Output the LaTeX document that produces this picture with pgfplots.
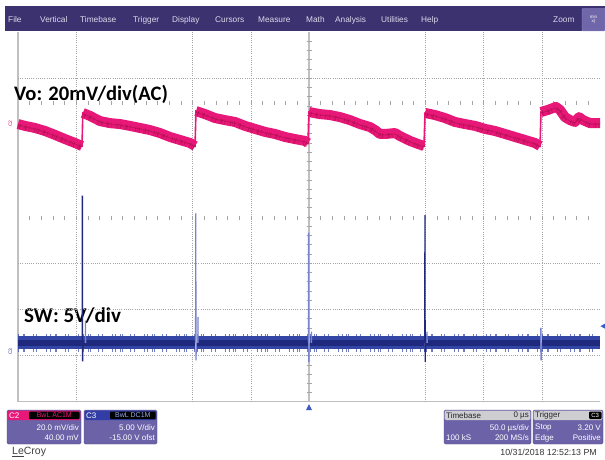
\documentclass[border=0pt]{standalone}
\usepackage{pgfplots}
\pgfplotsset{compat=1.18}
\usepackage{pgfplotstable}
\usepackage{fontspec}
\setmainfont{Liberation Sans}
\newfontfamily\labfont{Carlito}

\definecolor{menubar}{RGB}{60,50,112}
\definecolor{menutext}{RGB}{220,218,235}
\definecolor{zoombtn}{RGB}{112,102,170}
\definecolor{ch2}{RGB}{232,24,120}
\definecolor{ch2dark}{RGB}{140,10,55}
\definecolor{ch3}{RGB}{52,70,165}
\definecolor{ch3dark}{RGB}{30,40,125}
\definecolor{ch3light}{RGB}{120,132,205}
\definecolor{ch3hdr}{RGB}{50,62,165}
\definecolor{boxbody}{RGB}{108,98,168}
\definecolor{boxedge}{RGB}{78,68,138}
\definecolor{hdrgray}{RGB}{205,205,210}
\definecolor{gridc}{RGB}{165,165,165}
\definecolor{border}{RGB}{192,192,192}
\definecolor{trig}{RGB}{60,90,200}

\newcommand\ui{\fontsize{8}{9}\selectfont}

% Vo (C2), 20 mV/div, AC coupled, time in us
\pgfplotstableread{
t v
-250.0 0.2
-244.0 -0.6
-235.4 -1.5
-226.8 -2.8
-218.2 -4.5
-209.6 -6.3
-201.0 -8.0
-195.0 -9.3
nan nan
-194.3 5.0
-188.1 3.7
-179.6 1.5
-171.0 0.6
-162.4 0.2
-153.8 -0.6
-145.2 -1.5
-136.6 -2.4
-128.0 -3.7
-119.4 -5.4
-110.8 -6.7
-102.2 -8.0
-97.9 -9.3
nan nan
-97.1 5.8
-89.3 4.5
-80.8 2.8
-72.2 1.9
-63.6 1.1
-55.0 -0.6
-46.4 -1.9
-37.8 -3.2
-29.2 -4.1
-20.6 -5.4
-12.0 -6.3
-3.4 -7.1
-0.9 -8.0
nan nan
0.0 5.4
9.4 4.5
18.0 4.1
26.6 3.2
35.2 1.9
43.8 0.2
52.4 -1.1
56.7 -2.4
61.0 -4.1
65.3 -4.1
73.9 -3.7
78.2 -5.0
86.8 -7.1
93.6 -8.4
98.8 -9.3
nan nan
99.7 5.0
108.2 4.1
116.8 2.8
125.4 1.1
134.0 0.2
142.6 -0.6
151.2 -1.9
159.8 -2.8
168.4 -4.1
177.0 -5.4
185.6 -6.7
194.2 -8.0
198.5 -9.3
nan nan
199.3 5.4
205.3 6.3
212.2 7.6
215.6 6.3
219.9 3.2
224.3 1.9
228.5 1.1
232.0 3.2
235.4 1.9
241.4 0.6
250.0 0.6
}\voTable

% SW (C3), 5 V/div, baseline band
\pgfplotstableread{
t v
-250.0 1.4
-195.3 1.4
nan nan
-193.8 1.4
-97.9 1.4
nan nan
-96.6 1.4
-0.9 1.4
nan nan
0.5 1.4
99.0 1.4
nan nan
100.4 1.4
198.7 1.4
nan nan
200.0 1.4
250.0 1.4
}\swTable

\begin{document}
\begin{tikzpicture}
\path[use as bounding box] (0,0) rectangle (605pt,459pt);
\fill[white] (0,0) rectangle (605pt,459pt);

\begin{scope}[shift={(0pt,459pt)},x=1pt,y=-1pt]
  % menu bar
  \fill[menubar] (5,6) rectangle (605,31.5);
  \foreach \xx/\mt in {8/File,40/Vertical,80/Timebase,133/Trigger,172/Display,215/Cursors,258/Measure,306/Math,335/Analysis,381/Utilities,421/Help,553/Zoom}
    \node[anchor=base west,inner sep=0pt,text=menutext,font=\fontsize{8.3}{9}\selectfont] at (\xx,22.3) {\mt};
  \filldraw[fill=zoombtn,draw={rgb,255:red,150;green,140;blue,200},rounded corners=1pt] (582,8.5) rectangle (605,31);
  \node[text=white,font=\fontsize{4.5}{5}\selectfont,align=center,inner sep=0pt] at (593.5,19.5) {min\\[-1pt]x)};

  % graticule decorations
  \draw[border,line width=2pt] (18,32) -- (18,402);
  \draw[border,line width=1pt] (18,401.5) -- (600,401.5);
  \draw[border,line width=1.2pt] (309,32) -- (309,401);
  \foreach \k in {1,...,39} \draw[gridc,line width=0.6pt] (306.5,{32+\k*9.25}) -- (311.5,{32+\k*9.25});
  \foreach \k in {1,...,49} {
    \draw[gridc,line width=0.6pt] ({18+\k*11.64},101) -- ({18+\k*11.64},105);
    \draw[gridc,line width=0.6pt] ({18+\k*11.64},216) -- ({18+\k*11.64},220);
  }

  % channel ground markers
  \node[rotate=90,text=ch2,font=\fontsize{5}{5}\selectfont,inner sep=0pt] at (10.5,123.5) {C2};
  \node[rotate=90,text=ch3,font=\fontsize{5}{5}\selectfont,inner sep=0pt] at (10.5,351.5) {C3};

  % labels
  \node[anchor=west,inner sep=0pt,font={\labfont\bfseries\fontsize{20.6}{21}\selectfont}] at (14,94.5) {Vo: 20mV/div(AC)};
  \node[anchor=west,inner sep=0pt,font={\labfont\bfseries\fontsize{21}{21}\selectfont}] at (24,316) {SW: 5V/div};

  % C2 box
  \filldraw[fill=boxbody,draw=boxedge,rounded corners=1.5pt] (7,410) rectangle (81,444);
  \fill[ch2,rounded corners=1.2pt] (7.6,410.6) rectangle (80.4,420);
  \node[anchor=west,inner sep=0pt,text=white,font=\ui] at (9,415.3) {C2};
  \fill[black,rounded corners=1pt] (29,411.6) rectangle (79.6,419);
  \node[inner sep=0pt,text=ch2,font=\fontsize{7}{7}\selectfont] at (54.3,415.4) {BwL AC1M};
  \node[anchor=east,inner sep=0pt,text=white,font=\ui] at (79,428) {20.0 mV/div};
  \node[anchor=east,inner sep=0pt,text=white,font=\ui] at (79,438) {40.00 mV};

  % C3 box
  \filldraw[fill=boxbody,draw=boxedge,rounded corners=1.5pt] (84,410) rectangle (157,444);
  \fill[ch3hdr,rounded corners=1.2pt] (84.6,410.6) rectangle (156.4,420);
  \node[anchor=west,inner sep=0pt,text=white,font=\ui] at (86,415.3) {C3};
  \fill[black,rounded corners=1pt] (110,411.6) rectangle (155.6,419);
  \node[inner sep=0pt,text={rgb,255:red,150;green,170;blue,240},font=\fontsize{7}{7}\selectfont] at (132.8,415.4) {BwL DC1M};
  \node[anchor=east,inner sep=0pt,text=white,font=\ui] at (155,428) {5.00 V/div};
  \node[anchor=east,inner sep=0pt,text=white,font=\ui] at (155,438) {-15.00 V ofst};

  % Timebase box
  \filldraw[fill=boxbody,draw=boxedge,rounded corners=1.5pt] (444,410) rectangle (531,444);
  \fill[hdrgray,rounded corners=1.2pt] (444.6,410.6) rectangle (530.4,420);
  \node[anchor=west,inner sep=0pt,text=black!85,font=\ui] at (446,415.3) {Timebase};
  \node[anchor=east,inner sep=0pt,text=black!85,font=\ui] at (529,415.3) {0 µs};
  \node[anchor=east,inner sep=0pt,text=white,font=\ui] at (529,428) {50.0 µs/div};
  \node[anchor=west,inner sep=0pt,text=white,font=\ui] at (446,438) {100 kS};
  \node[anchor=east,inner sep=0pt,text=white,font=\ui] at (529,438) {200 MS/s};

  % Trigger box
  \filldraw[fill=boxbody,draw=boxedge,rounded corners=1.5pt] (533,410) rectangle (603,444);
  \fill[hdrgray,rounded corners=1.2pt] (533.6,410.6) rectangle (602.4,420);
  \node[anchor=west,inner sep=0pt,text=black!85,font=\ui] at (535,415.3) {Trigger};
  \fill[black,rounded corners=1pt] (589,411.6) rectangle (601.5,419);
  \node[inner sep=0pt,text=white,font=\fontsize{6}{6}\selectfont] at (595.2,415.4) {C3};
  \node[anchor=west,inner sep=0pt,text=white,font=\ui] at (535,428) {Stop};
  \node[anchor=east,inner sep=0pt,text=white,font=\ui] at (601,428) {3.20 V};
  \node[anchor=west,inner sep=0pt,text=white,font=\ui] at (535,438) {Edge};
  \node[anchor=east,inner sep=0pt,text=white,font=\ui] at (601,438) {Positive};

  % footer
  \node[anchor=west,inner sep=0pt,text=black!75,font=\fontsize{10.5}{11}\selectfont] at (12,452) {\underline{Le}Croy};
  \node[anchor=east,inner sep=0pt,text=black!80,font=\fontsize{8.8}{9}\selectfont] at (597,452) {10/31/2018 12:52:13 PM};
\end{scope}

% Vo axis (mV) with graticule
\begin{axis}[at={(18pt,57pt)},anchor=south west,width=582pt,height=370pt,scale only axis,
  xmin=-250,xmax=250,ymin=-120,ymax=40,clip=false,
  xtick={-200,-100,-50,100,150,200},ytick={20,-60,-80,-100},
  xticklabels={},yticklabels={},
  grid=major,major grid style={gridc,line width=0.6pt,dash pattern=on 1pt off 1.2pt},
  axis line style={draw=none},tick style={draw=none}]
  \addplot[ch2,line width=1.6pt,unbounded coords=discard] table[x=t,y=v] {\voTable};
  \addplot[ch2,line width=10pt,unbounded coords=jump,line join=round] table[x=t,y=v] {\voTable};
  \addplot[ch2dark,line width=5pt,opacity=0.4,yshift=-2pt,unbounded coords=jump,
    dash pattern=on 0.4pt off 1.3pt on 0.9pt off 3.7pt on 0.3pt off 0.9pt on 1.2pt off 2.4pt on 0.5pt off 5.1pt on 0.7pt off 1.6pt] table[x=t,y=v] {\voTable};
  \addplot[ch2dark,line width=1pt,opacity=0.35,yshift=-1pt,unbounded coords=jump] table[x=t,y=v] {\voTable};
\end{axis}

% SW axis (V)
\begin{axis}[at={(18pt,57pt)},anchor=south west,width=582pt,height=370pt,scale only axis,
  xmin=-250,xmax=250,ymin=-5,ymax=35,clip=false,hide axis]
  \addplot[ch3,line width=18pt,opacity=0.7,unbounded coords=jump,
    dash pattern=on 0.6pt off 4.3pt on 0.4pt off 1.1pt on 0.9pt off 7.6pt on 0.5pt off 2.8pt on 0.7pt off 9.2pt on 0.4pt off 3.5pt] table[x=t,y=v] {\swTable};
  \addplot[ch3,line width=13pt,unbounded coords=jump] table[x=t,y=v] {\swTable};
  \addplot[ch3dark,line width=6pt,unbounded coords=jump] table[x=t,y=v] {\swTable};
  % switching spikes
  \addplot[ch3dark,line width=1.3pt] coordinates {(-194.8,1.4) (-194.7,17.3) (-194.5,-0.6) (-194.2,1.4)};
  \addplot[ch3light,line width=1.1pt] coordinates {(-192.2,1.4) (-192.0,3.8) (-191.8,1.4)};
  \addplot[ch3light,line width=1.3pt] coordinates {(-97.4,1.4) (-97.3,15.4) (-97.1,-0.5) (-96.8,1.4)};
  \addplot[ch3light,line width=1.1pt] coordinates {(-95.6,1.4) (-95.4,4.2) (-95.2,1.4)};
  \addplot[ch3light,line width=1.3pt] coordinates {(-0.4,1.4) (-0.3,13.3) (-0.1,-0.7) (0.2,1.4)};
  \addplot[ch3light,line width=1.1pt] coordinates {(1.9,1.4) (2.1,2.6) (2.3,1.4)};
  \addplot[ch3dark,line width=1.3pt] coordinates {(99.5,1.4) (99.6,15.2) (99.8,-0.7) (100.1,1.4)};
  \addplot[ch3light,line width=1.1pt] coordinates {(101.2,1.4) (101.4,2.6) (101.6,1.4)};
  \addplot[ch3light,line width=1.3pt] coordinates {(199.1,1.4) (199.2,3.0) (199.4,-0.5) (199.7,1.4)};
  % trigger markers (level 3.20 V at right edge, time 0 at bottom)
  \fill[trig] (axis cs:250,3.2) ++(5pt,2.5pt) -- ++(-4.5pt,-2.5pt) -- ++(4.5pt,-2.5pt) -- cycle;
  \fill[trig] (axis cs:0,-5) ++(-3pt,-8pt) -- ++(3pt,6pt) -- ++(3pt,-6pt) -- cycle;
\end{axis}
\end{tikzpicture}
\end{document}
